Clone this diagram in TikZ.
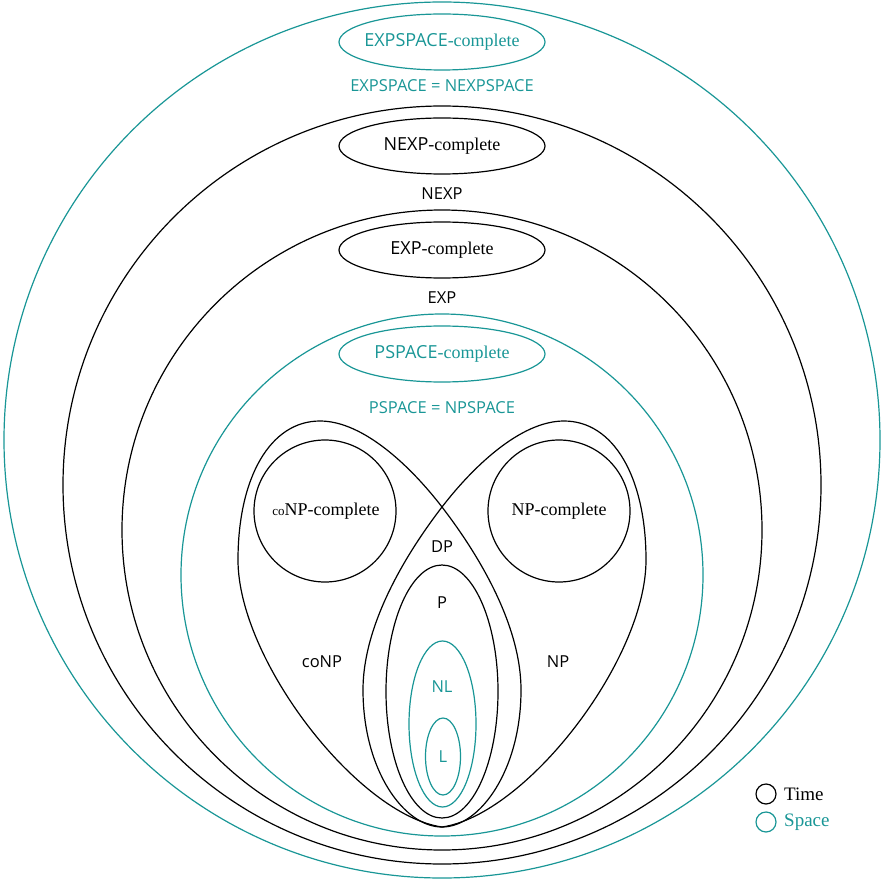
\documentclass[tikz,border=0pt]{standalone}
\usepackage{fontspec}
\setmainfont{Liberation Serif}
\setsansfont{Open Sans}
\usetikzlibrary{positioning}
\definecolor{spacecol}{RGB}{25,150,150}
\tikzset{
  cls/.style={font=\sffamily\fontsize{16.5}{18}\selectfont, inner sep=1pt},
  cmpl/.style={font=\fontsize{18}{20}\selectfont, inner sep=1pt},
  key/.style={circle, draw, minimum size=20pt, inner sep=0pt},
}
\begin{document}
\begin{tikzpicture}[x=1pt,y=-1pt,line width=1.2pt]
	\useasboundingbox (0,0) rectangle (881,882);
	% nested classes with their complete problems
	\foreach \k/\c in {0/spacecol,1/black,2/black,3/spacecol} {
		\draw[\c] (442,{440+45*\k}) circle[radius={438-59*\k}];
		\draw[\c] (442,{42+104*\k}) ellipse[x radius=103,y radius=28];
	}
	\node[cmpl,text=spacecol] (expspaceC) at (442,42) {\textsf{EXPSPACE}-complete};
	\node[cls,text=spacecol] (expspace) at (442,86) {EXPSPACE = NEXPSPACE};
	\node[cmpl] (nexpC) at (442,146) {\textsf{NEXP}-complete};
	\node[cls] (nexp) at (442,194) {NEXP};
	\node[cmpl] (expC) at (442,250) {\textsf{EXP}-complete};
	\node[cls] (exp) at (442,298) {EXP};
	\node[cmpl,text=spacecol] (pspaceC) at (442,354) {\textsf{PSPACE}-complete};
	\node[cls,text=spacecol] (pspace) at (442,408) {PSPACE = NPSPACE};
	% coNP on the left, NP mirrored on the right
	\foreach \s in {1,-1} {
		\draw (442,827) .. controls ({442+38*\s},827) and ({442+79*\s},770) .. ({442+79*\s},690)
			.. controls ({442+79*\s},620) and ({442+30*\s},546) .. (442,507)
			.. controls ({442-30*\s},468) and ({442-78*\s},421) .. ({442-122*\s},421)
			.. controls ({442-172*\s},421) and ({442-204*\s},478) .. ({442-204*\s},560)
			.. controls ({442-204*\s},660) and ({442-84*\s},815) .. (442,827);
		\draw ({442-117*\s},511) circle[radius=71];
	}
	\node[cmpl] (conpC) at (326,511) {{\fontsize{13}{13}\selectfont co}NP-complete};
	\node[cmpl] (npC) at (559,511) {NP-complete};
	\node[cls] (conp) at (322,662) {coNP};
	\node[cls] (np) at (558,662) {NP};
	\node[cls] (dp) at (442,547) {DP};
	% P, NL and L at the bottom
	\draw (442,691.5) ellipse[x radius=56,y radius=126.5];
	\draw[spacecol] (442.5,724) ellipse[x radius=33.5,y radius=83];
	\draw[spacecol] (443,756.5) ellipse[x radius=17.5,y radius=38.5];
	\node[cls] (p) at (442,603) {P};
	\node[cls,text=spacecol] (nl) at (442,687) {NL};
	\node[cls,text=spacecol] (l) at (443,757) {L};
	% legend
	\node[key] (time) at (766,794) {};
	\node[cmpl,font=\fontsize{19}{20}\selectfont,right=6pt of time] (timeT) {Time};
	\node[key,draw=spacecol] (space) at (766,822) {};
	\node[cmpl,font=\fontsize{19}{20}\selectfont,text=spacecol,right=6pt of space] (spaceT) {Space};
\end{tikzpicture}
\end{document}
